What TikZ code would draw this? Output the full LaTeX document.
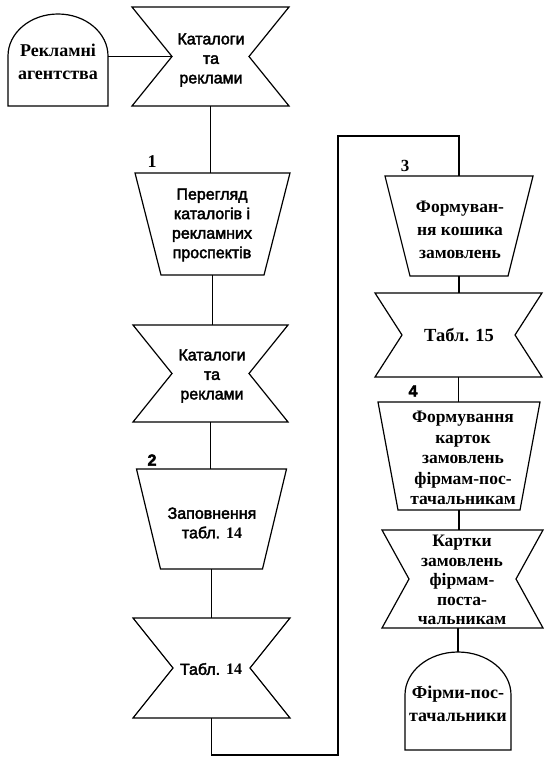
\documentclass[tikz,border=0pt]{standalone}
\usepackage{fontspec}
\setmainfont{Liberation Serif}
\newfontfamily\sansf[FakeBold=2.5]{Liberation Sans}
\usetikzlibrary{calc}
\newcommand{\trapshape}[2]{\draw[outl] (#1.north west) -- (#1.north east) -- ([xshift=-#2]#1.south east) -- ([xshift=#2]#1.south west) -- cycle;}
\newcommand{\bowshape}[2]{\draw[outl] (#1.north west) -- (#1.north east) -- ([xshift=-#2]#1.east) -- (#1.south east) -- (#1.south west) -- ([xshift=#2]#1.west) -- cycle;}
\newcommand{\archshape}[3]{\draw[outl] (#1.south west) -- ([yshift=-#3]#1.north west) arc[start angle=180,end angle=0,x radius=#2,y radius=#3] -- (#1.south east) -- cycle;}
\begin{document}
\begin{tikzpicture}[x=1pt,y=1pt,
  outl/.style={line width=1.2pt,line join=miter},
  conn/.style={line width=1.2pt},
  box/.style={draw=none,inner sep=0pt,outer sep=0pt,align=center},
  sanstxt/.style={font=\sansf\fontsize{16}{19.5}\selectfont},
  seriftxt/.style={font=\bfseries\fontsize{17.5}{20.5}\selectfont},
  boldtxt/.style={font=\bfseries\fontsize{18}{23}\selectfont},
  numlab/.style={inner sep=0pt}]
\useasboundingbox (0,0) rectangle (547,-757);
% left column
\node[box,minimum width=100pt,minimum height=92pt] (rek) at (58,-60) {};
\node[boldtxt,box] (rekt) at (58,-62) {Рекламні\\агентства};
\archshape{rek}{50pt}{42pt}
\node[box,minimum width=157pt,minimum height=99pt] (kat1) at (210.5,-56.5) {};
\node[sanstxt,box] (kat1t) at (211,-60) {Каталоги\\та\\реклами};
\bowshape{kat1}{40pt}
\node[box,minimum width=155pt,minimum height=102pt] (tr1) at (212.5,-224) {};
\node[sanstxt,box] (tr1t) at (212,-225) {Перегляд\\каталогів і\\рекламних\\проспектів};
\trapshape{tr1}{26pt}
\node[numlab,font=\bfseries\fontsize{18}{18}\selectfont] (n1) at (152,-162) {1};
\node[box,minimum width=155pt,minimum height=97pt] (kat2) at (210.5,-373.5) {};
\node[sanstxt,box] (kat2t) at (212,-376) {Каталоги\\та\\реклами};
\bowshape{kat2}{39pt}
\node[box,minimum width=150pt,minimum height=100pt] (tr2) at (211.5,-519) {};
\node[sanstxt,box] (tr2t) at (212,-523) {Заповнення\\табл. {\rmfamily\bfseries 14}};
\trapshape{tr2}{24pt}
\node[numlab,font=\sansf\bfseries\fontsize{16}{16}\selectfont] (n2) at (152,-460) {2};
\node[box,minimum width=157pt,minimum height=100pt] (tab14) at (211.5,-668) {};
\node[sanstxt,box] (tab14t) at (211,-669) {Табл. {\rmfamily\bfseries 14}};
\bowshape{tab14}{40pt}
% right column
\node[box,minimum width=148pt,minimum height=100pt] (tr3) at (459,-226) {};
\node[seriftxt,box,font=\bfseries\fontsize{17.5}{23}\selectfont] (tr3t) at (460,-230) {Формуван-\\ня кошика\\замовлень};
\trapshape{tr3}{25pt}
\node[numlab,font=\bfseries\fontsize{17}{17}\selectfont] (n3) at (405,-166) {3};
\node[box,minimum width=167pt,minimum height=84pt] (tab15) at (458.5,-335) {};
\node[seriftxt,box,font=\bfseries\fontsize{18.5}{20}\selectfont] (tab15t) at (459,-335) {Табл. 15};
\bowshape{tab15}{27pt}
\node[box,minimum width=162pt,minimum height=108pt] (tr4) at (459,-456) {};
\node[seriftxt,box] (tr4t) at (463,-458) {Формування\\карток\\замовлень\\фірмам-пос-\\тачальникам};
\trapshape{tr4}{20pt}
\node[numlab,font=\sansf\bfseries\fontsize{16}{16}\selectfont] (n4) at (413,-391) {4};
\node[box,minimum width=161pt,minimum height=98pt] (kart) at (462.5,-579) {};
\node[seriftxt,box,font=\bfseries\fontsize{17.5}{19.5}\selectfont] (kartt) at (462,-580) {Картки\\замовлень\\фірмам-\\поста-\\чальникам};
\bowshape{kart}{27pt}
\node[box,minimum width=106pt,minimum height=98pt] (firm) at (458,-701) {};
\node[boldtxt,box] (firmt) at (458,-704) {Фірми-пос-\\тачальники};
\archshape{firm}{53pt}{43pt}
% connectors
\coordinate (k1notch) at ($(kat1.west)+(40,0)$);
\draw[conn] (rek.east |- k1notch) -- (k1notch);
\draw[conn] (kat1.south) -- (kat1.south |- tr1.north);
\draw[conn] (tr1.south) -- (tr1.south |- kat2.north);
\draw[conn] (kat2.south) -- (kat2.south |- tr2.north);
\draw[conn] (tr2.south) -- (tr2.south |- tab14.north);
\coordinate (lb) at (338,-755);
\coordinate (lt) at (338,-136);
\draw[conn] (tab14.south) |- (lb) -- (lt) -| (tr3.north);
\draw[conn] (tr3.south) -- (tr3.south |- tab15.north);
\draw[conn] (tab15.south) -- (tab15.south |- tr4.north);
\draw[conn] (tr4.south) -- (tr4.south |- kart.north);
\coordinate (ftop) at (firm.north);
\draw[conn] (kart.south -| ftop) -- (ftop);
\end{tikzpicture}
\end{document}
